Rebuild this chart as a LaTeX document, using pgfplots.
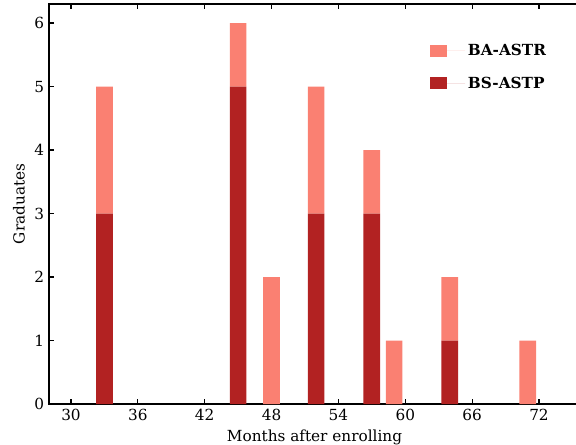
\documentclass[border=0pt]{standalone}
\usepackage{pgfplots}
\pgfplotsset{compat=1.18}
\usepackage{fontspec}
\setmainfont{DejaVu Serif}
\definecolor{salmonc}{HTML}{FA8072}
\definecolor{firebrickc}{HTML}{B22222}
\begin{document}
\begin{tikzpicture}
\useasboundingbox (0,0) rectangle (414.72pt,319.68pt);
\begin{axis}[
  at={(35.28pt,28.8pt)}, anchor=south west,
  scale only axis, width=382.32pt, height=288pt,
  xmin=28.026, xmax=75.68, ymin=0, ymax=6.3,
  xtick={30,36,...,72}, ytick={0,1,...,6},
  tick align=inside, ytick pos=left, xticklabel pos=lower,
  major tick length=3.5pt,
  tick style={black, line width=0.8pt},
  axis line style={black, line width=0.8pt},
  /pgf/number format/assume math mode=true,
  tick label style={font=\fontsize{11}{13}\selectfont},
  label style={font=\fontsize{11}{13}\selectfont},
  xlabel={Months after enrolling}, ylabel={Graduates},
  ybar stacked, bar width=1.5,
  reverse legend,
  legend cell align=left,
  legend image code/.code={\fill[#1] (0pt,-4.3pt) rectangle (12.2pt,4.3pt); \path (0pt,0pt) -- (25pt,0pt);},
  legend style={draw=none, fill=none, at={(rel axis cs:0.71,0.915)}, anchor=north west,
    font=\fontsize{11}{13}\selectfont\bfseries, row sep=10pt},
]
\addplot[fill=firebrickc, draw=none] coordinates {(33,3) (45,5) (48,0) (52,3) (57,3) (59,0) (64,1) (71,0)};
\addlegendentry{BS-ASTP}
\addplot[fill=salmonc, draw=none] coordinates {(33,2) (45,1) (48,2) (52,2) (57,1) (59,1) (64,1) (71,1)};
\addlegendentry{BA-ASTR}
\end{axis}
\end{tikzpicture}
\end{document}
